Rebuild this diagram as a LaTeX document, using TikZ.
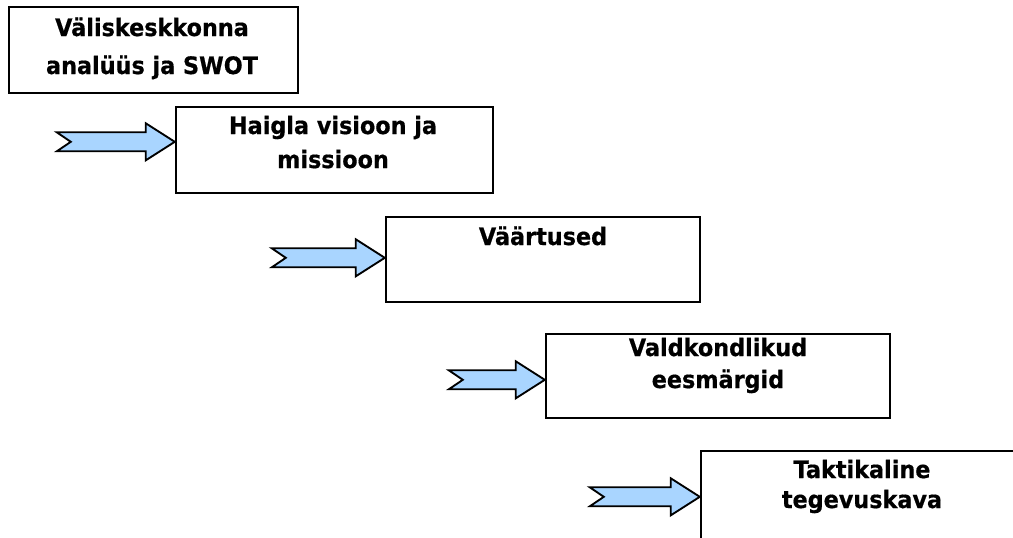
\documentclass[tikz,border=0pt]{standalone}
\usepackage{fontspec}
\setmainfont{DejaVu Sans}[FakeStretch=0.93,BoldFeatures={FakeBold=0.6}]
\usetikzlibrary{fit,calc}
\definecolor{arrowblue}{HTML}{A9D5FF}
\newcommand\boxtext[3]{{\fontsize{18}{#1}\selectfont\bfseries\begin{tabular}[t]{@{}c@{}}#2\\#3\end{tabular}}}
\newcommand\blockarrow[2]{%
  \draw[blockarrow, shift={(#1)}] (#2,-9.5) -- (-29,-9.5) -- (-29,-18.5) -- (0,0)
    -- (-29,18.5) -- (-29,9.5) -- (#2,9.5) -- ($(#2,0)+(14,0)$) -- cycle;}
\tikzset{
  stagebox/.style={draw=black, line width=1.8pt, inner sep=0pt, rectangle},
  stagetext/.style={anchor=base, inner sep=0pt, text=black},
  blockarrow/.style={draw=black, line width=1.4pt, fill=arrowblue, line join=miter},
}
\begin{document}
\begin{tikzpicture}[x=0.75pt, y=-0.75pt]
\clip (0,0) rectangle (1013,537);
\fill[white] (0,0) rectangle (1013,537);
% boxes
\node[stagebox, fit={(9,7) (298,93)}] (b1) {};
\node[stagebox, fit={(176,107) (493,193)}] (b2) {};
\node[stagebox, fit={(386,217) (700,302)}] (b3) {};
\node[stagebox, fit={(546,334) (890,418)}] (b4) {};
\node[stagebox, fit={(701,451) (1030,545)}] (b5) {};
% texts
\node[stagetext] (l1) at (152,36) {\boxtext{28.5}{Väliskeskkonna}{analüüs ja SWOT}};
\node[stagetext] (l2) at (333,134) {\boxtext{25.5}{Haigla visioon ja}{missioon}};
\node[stagetext] (l3) at (543,245) {\fontsize{18}{20}\selectfont\bfseries Väärtused};
\node[stagetext] (l4) at (718,356) {\boxtext{24}{Valdkondlikud}{eesmärgid}};
\node[stagetext] (l5) at (862,478) {\boxtext{22.5}{Taktikaline}{tegevuskava}};
% arrow tips on the box edges
\coordinate (t1) at ($(b2.north west)+(0,36)$);
\coordinate (t2) at ($(b3.north west)+(0,42)$);
\coordinate (t3) at ($(b4.north west)+(0,47)$);
\coordinate (t4) at ($(b5.north west)+(0,47)$);
\blockarrow{t1}{-118}
\blockarrow{t2}{-113}
\blockarrow{t3}{-96}
\blockarrow{t4}{-110}
\end{tikzpicture}
\end{document}
